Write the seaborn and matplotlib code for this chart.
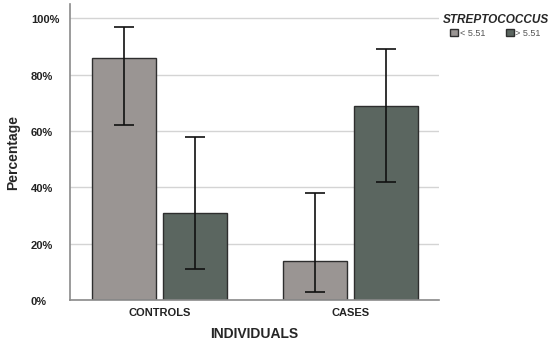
import matplotlib
matplotlib.use("Agg")
import matplotlib.pyplot as plt
import matplotlib.transforms as mtrans
import numpy as np
import pandas as pd
import seaborn as sns

groups = ["CONTROLS", "CASES"]
levels = ["< 5.51", "> 5.51"]
pct_low = [86, 14]
pct_high = [31, 69]
ci_low_lo = [62, 3]
ci_low_hi = [97, 38]
ci_high_lo = [11, 42]
ci_high_hi = [58, 89]
yticks = [0, 20, 40, 60, 80, 100]

df = pd.DataFrame({
    "group": groups * 2,
    "level": [levels[0]] * 2 + [levels[1]] * 2,
    "pct": pct_low + pct_high,
})
ci_lo = [ci_low_lo, ci_high_lo]
ci_hi = [ci_low_hi, ci_high_hi]

sns.set_style("white")
plt.rcParams["font.family"] = ["Liberation Sans", "DejaVu Sans"]

fig = plt.figure(figsize=(5.5, 3.44), dpi=100)
ax = fig.add_axes([0.127, 0.128, 0.671, 0.86])

palette = {levels[0]: "#9a9593", levels[1]: "#5b6660"}
sns.barplot(data=df, x="group", y="pct", hue="level", order=groups, hue_order=levels,
            palette=palette, errorbar=None, width=0.743, gap=0.1,
            edgecolor="#2e2e2e", linewidth=1.0, saturation=1, ax=ax, zorder=2)

bar_conts = list(ax.containers)
for i, cont in enumerate(bar_conts):
    xs = [b.get_x() + b.get_width() / 2 for b in cont]
    hs = [b.get_height() for b in cont]
    lo = np.array(hs) - np.array(ci_lo[i])
    hi = np.array(ci_hi[i]) - np.array(hs)
    ax.errorbar(xs, hs, yerr=[lo, hi], fmt="none", ecolor="#111111",
                elinewidth=1.2, capsize=7, capthick=1.2, zorder=3)

ax.set_xlim(-0.47, 1.465)
ax.set_ylim(0, 105)
ax.set_yticks(yticks)
ax.set_yticklabels([f"{v}%" for v in yticks], fontsize=8, fontweight="bold", color="#222222",
                   ha="left", va="center")
ax.set_xticks(range(len(groups)))
ax.set_xticklabels(groups, fontsize=8, fontweight="bold", color="#222222")
ax.tick_params(axis="x", length=0, pad=6)
ax.tick_params(axis="y", length=0, pad=28)
ax.yaxis.grid(True, color="#d4d4d4", lw=1, zorder=0)
ax.set_axisbelow(True)
for s in ["top", "right"]:
    ax.spines[s].set_visible(False)
for s in ["left", "bottom"]:
    ax.spines[s].set_color("#8a8a8a")
    ax.spines[s].set_linewidth(1.2)

# y labels sit a touch below their gridlines in the original
offset = mtrans.ScaledTranslation(0, -1.5 / 72, fig.dpi_scale_trans)
for lab in ax.get_yticklabels():
    lab.set_transform(lab.get_transform() + offset)

ax.set_ylabel("Percentage", fontsize=10, fontweight="bold", labelpad=8)
ax.set_xlabel("INDIVIDUALS", fontsize=10, fontweight="bold", labelpad=6.5)

leg = ax.legend(title="STREPTOCOCCUS", loc="upper left", bbox_to_anchor=(0.995, 0.985),
                ncol=2, frameon=False, fontsize=6.5, handlelength=0.9, handleheight=0.9,
                columnspacing=2.2, handletextpad=0.2, borderaxespad=0.2)
leg.get_title().set_fontweight("bold")
leg.get_title().set_fontstyle("italic")
leg.get_title().set_fontsize(8.5)
leg._legend_box.sep = 2
for t in leg.get_texts():
    t.set_color("#555555")

fig.savefig("out.png", dpi=100)
